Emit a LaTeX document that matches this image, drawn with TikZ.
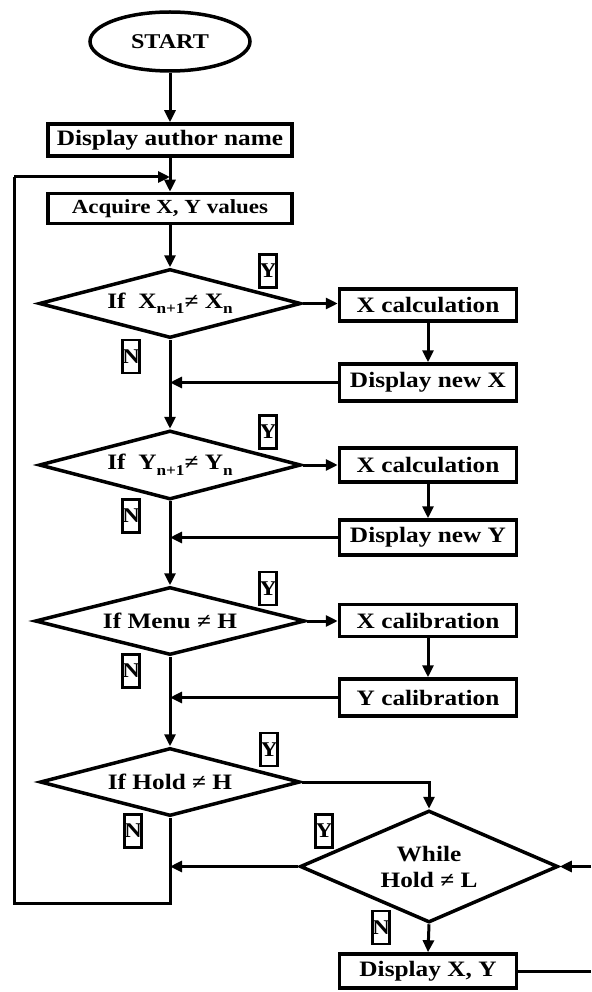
\documentclass[tikz,border=0pt]{standalone}
\usepackage{fontspec}
\setmainfont[FakeStretch=1.15]{Liberation Serif}
\usetikzlibrary{shapes.geometric,arrows.meta}
\newcommand{\subtxt}[1]{\raisebox{-0.25em}{\fontsize{15}{15}\selectfont #1}}
\begin{document}
\begin{tikzpicture}[x=1pt,y=-1pt,
  font=\bfseries\fontsize{22}{26}\selectfont,
  box/.style={draw, rectangle, line width=3.5pt, inner sep=0pt, minimum width=177pt, minimum height=33pt},
  dia/.style={draw, diamond, line width=3.5pt, inner sep=0pt, aspect=3.7},
  lab/.style={draw, rectangle, line width=2.8pt, inner sep=0pt, minimum width=17pt, minimum height=33pt, font=\bfseries\fontsize{21}{22}\selectfont},
  conn/.style={line width=3pt},
  arr/.style={conn, -{Triangle[length=12pt,width=11pt]}}]
\useasboundingbox (0,0) rectangle (591,992);

% main column
\node[draw, ellipse, line width=3.5pt, inner sep=0pt, minimum width=160pt, minimum height=59pt, font=\bfseries\fontsize{21}{24}\selectfont] (start) at (170,41.5) {START};
\node[box, minimum width=244pt, minimum height=32pt] (author) at (170,140) {Display author name};
\node[box, minimum width=244pt, minimum height=30pt, font=\bfseries\fontsize{20}{24}\selectfont] (acquire) at (170,208.5) {Acquire X, Y values};

\node[dia, minimum width=262pt, minimum height=69pt] (d1) at (170,303.5) {If\ \ X\subtxt{n+1}≠ X\subtxt{n}};
\node[dia, minimum width=262pt, minimum height=69pt] (d2) at (170,465) {If\ \ Y\subtxt{n+1}≠ Y\subtxt{n}};
\node[dia, minimum width=270pt, minimum height=68pt] (d3) at (170,621) {If Menu ≠ H};
\node[dia, minimum width=260pt, minimum height=68pt] (d4) at (170,782) {If Hold ≠ H};
\node[dia, aspect=2.27, minimum width=258pt, minimum height=112pt, align=center] (d5) at (429,866.5) {While\\Hold ≠ L};

% right column
\node[box, minimum height=32pt] (xc1) at (428,305) {X calculation};
\node[box, minimum height=37pt] (dx1) at (428,382.5) {Display new X};
\node[box, minimum height=34pt] (xc2) at (428,465) {X calculation};
\node[box, minimum height=35pt] (dy1) at (428,537.5) {Display new Y};
\node[box, minimum height=32pt] (xcal) at (428,620.5) {X calibration};
\node[box, minimum height=37pt] (ycal) at (428,697.5) {Y calibration};
\node[box, minimum height=34pt] (dxy) at (428,971) {Display X, Y};

% labels
\node[lab] (y1) at (268,271) {Y};
\node[lab] (n1) at (131,356.5) {N};
\node[lab] (y2) at (268,432) {Y};
\node[lab] (n2) at (131,516) {N};
\node[lab] (y3) at (268,588.5) {Y};
\node[lab] (n3) at (131,671) {N};
\node[lab] (y4) at (269,749.5) {Y};
\node[lab] (n4) at (133,831) {N};
\node[lab] (y5) at (324,831) {Y};
\node[lab] (n5) at (381,927.5) {N};

% helper coordinates
\coordinate (m1) at (d1.south |- dx1.west);
\coordinate (m2) at (d2.south |- dy1.west);
\coordinate (m3) at (d3.south |- ycal.west);
\coordinate (m4) at (d4.south |- d5.west);
\coordinate (c4) at (d5.north |- d4.east);
\coordinate (loopin) at (170,177);
\coordinate (loopL) at (14,177);
\coordinate (loopBL) at (14,903);
\coordinate (loopBR) at (170,903);
\coordinate (edgeA) at (591,969);
\coordinate (edgeB) at (591,866.5);

% connectors
\draw[arr] (start.south) -- (author.north);
\draw[arr] (author.south) -- (acquire.north);
\draw[arr] (acquire.south) -- (d1.north);
\draw[arr] (d1.east) -- (xc1.west |- d1.east);
\draw[arr] (xc1.south) -- (dx1.north);
\draw[arr] (dx1.west) -- (m1);
\draw[arr] (d1.south) -- (d2.north);
\draw[arr] (d2.east) -- (xc2.west);
\draw[arr] (xc2.south) -- (dy1.north);
\draw[arr] (dy1.west) -- (m2);
\draw[arr] (d2.south) -- (d3.north);
\draw[arr] (d3.east) -- (xcal.west |- d3.east);
\draw[arr] (xcal.south) -- (ycal.north);
\draw[arr] (ycal.west) -- (m3);
\draw[arr] (d3.south) -- (d4.north);
\draw[arr] (d4.east) -- (c4) -- (d5.north);
\draw[arr] (d5.west) -- (m4);
\draw[arr] (d5.south) -- (dxy.north);
\draw[conn] (dxy.east) -- (dxy.east -| edgeA);
\draw[arr] (edgeB) -- (d5.east);
\draw[conn] (d4.south) -- (loopBR) -- (loopBL) -- (loopL);
\draw[arr] (loopL) -- (loopin);
\end{tikzpicture}
\end{document}
